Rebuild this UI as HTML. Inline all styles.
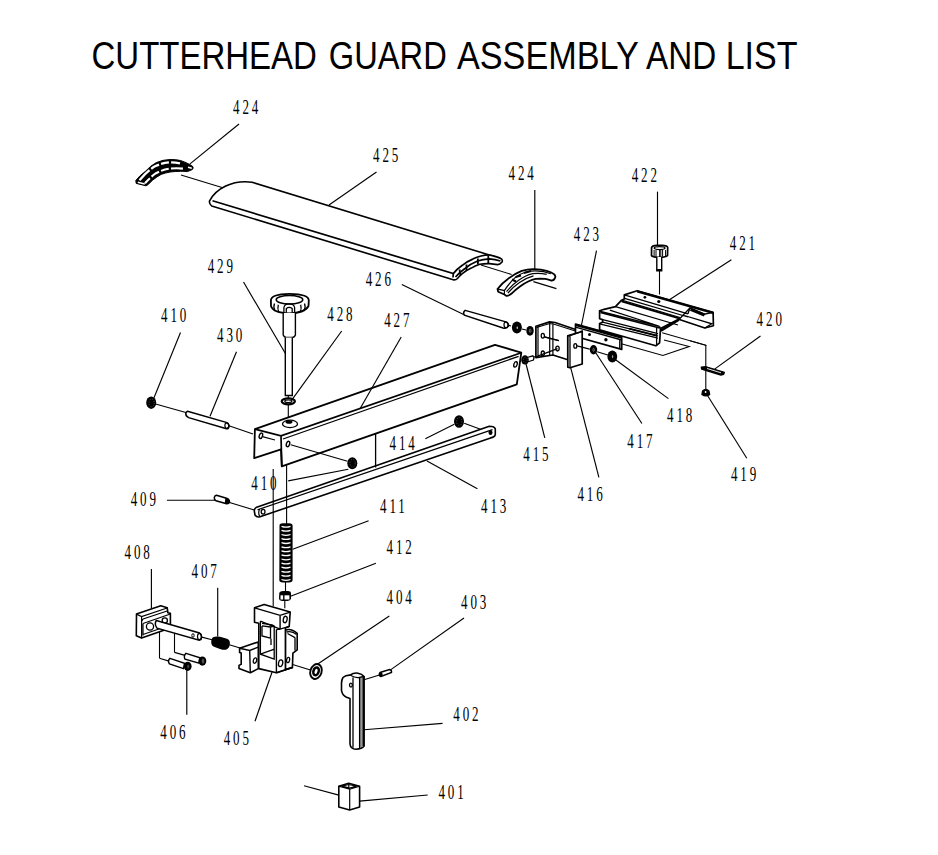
<!DOCTYPE html>
<html><head><meta charset="utf-8"><title>Cutterhead Guard Assembly</title>
<style>html,body{margin:0;padding:0;background:#fff;}svg{display:block;}text{fill:#000;}</style>
</head><body>
<svg width="938" height="855" viewBox="0 0 938 855">
<rect width="938" height="855" fill="#fff"/>
<text x="91.5" y="68.8" font-family="Liberation Sans" font-size="38" textLength="225.4" lengthAdjust="spacingAndGlyphs">CUTTERHEAD</text>
<text x="328.8" y="68.8" font-family="Liberation Sans" font-size="38" textLength="118.0" lengthAdjust="spacingAndGlyphs">GUARD</text>
<text x="456.9" y="68.8" font-family="Liberation Sans" font-size="38" textLength="182.0" lengthAdjust="spacingAndGlyphs">ASSEMBLY</text>
<text x="646.1" y="68.8" font-family="Liberation Sans" font-size="38" textLength="70.2" lengthAdjust="spacingAndGlyphs">AND</text>
<text x="725.7" y="68.8" font-family="Liberation Sans" font-size="38" textLength="71.8" lengthAdjust="spacingAndGlyphs">LIST</text>
<line x1="181" y1="175" x2="222.8" y2="187.8" stroke="#000" stroke-width="1.1"/>
<line x1="480.9" y1="265" x2="511.6" y2="274.5" stroke="#000" stroke-width="1.1"/>
<line x1="533.4" y1="281.6" x2="556.4" y2="288.6" stroke="#000" stroke-width="1.1"/>
<line x1="155.6" y1="404" x2="187.6" y2="413" stroke="#000" stroke-width="1.1"/>
<line x1="227.5" y1="425.3" x2="253" y2="434" stroke="#000" stroke-width="1.1"/>
<line x1="464.2" y1="423.3" x2="480.5" y2="429.3" stroke="#000" stroke-width="1.1"/>
<line x1="228.7" y1="502.3" x2="254.3" y2="510" stroke="#000" stroke-width="1.1"/>
<line x1="273.2" y1="469" x2="273.2" y2="606.2" stroke="#000" stroke-width="1.1"/>
<line x1="286.6" y1="464" x2="286.6" y2="524" stroke="#000" stroke-width="1.1"/>
<line x1="285.5" y1="581.7" x2="285.5" y2="591.5" stroke="#000" stroke-width="1.1"/>
<line x1="284.8" y1="600.5" x2="284.8" y2="608.3" stroke="#000" stroke-width="1.1"/>
<line x1="288.3" y1="337" x2="288.3" y2="420" stroke="#000" stroke-width="1.1"/>
<line x1="659.5" y1="271" x2="659.5" y2="294.5" stroke="#000" stroke-width="1.1"/>
<line x1="201.8" y1="637.1" x2="212" y2="639.7" stroke="#000" stroke-width="1.1"/>
<line x1="229.3" y1="644.8" x2="240.1" y2="648" stroke="#000" stroke-width="1.1"/>
<line x1="159.5" y1="629.4" x2="159.5" y2="658.2" stroke="#000" stroke-width="1.1"/>
<line x1="159.5" y1="658.2" x2="169.8" y2="661.4" stroke="#000" stroke-width="1.1"/>
<line x1="174.5" y1="633.3" x2="174.5" y2="652.4" stroke="#000" stroke-width="1.1"/>
<line x1="174.5" y1="652.4" x2="185.8" y2="655.6" stroke="#000" stroke-width="1.1"/>
<line x1="291.8" y1="664.3" x2="310.4" y2="670" stroke="#000" stroke-width="1.1"/>
<line x1="364" y1="679.8" x2="379.5" y2="674.9" stroke="#000" stroke-width="1.1"/>
<line x1="304" y1="785.8" x2="338.8" y2="795.1" stroke="#000" stroke-width="1.1"/>
<line x1="506.8" y1="324.8" x2="511" y2="326" stroke="#000" stroke-width="1.1"/>
<line x1="522" y1="329" x2="526" y2="330" stroke="#000" stroke-width="1.1"/>
<line x1="533" y1="357.2" x2="537" y2="356" stroke="#000" stroke-width="1.1"/>
<line x1="597.2" y1="351.8" x2="607.8" y2="355" stroke="#000" stroke-width="1.1"/>
<line x1="690" y1="340.7" x2="705.8" y2="345.3" stroke="#000" stroke-width="1.1"/>
<line x1="705.8" y1="345.3" x2="705.8" y2="389.2" stroke="#000" stroke-width="1.1"/>
<path d="M135.8,180.6 Q139,176 145.9,170.9 Q150,166 156.3,162.6 Q163,159.6 170.1,159.5 Q176,159.4 180.5,160.5 Q185,162 188.8,164 Q192,165.5 193,166.8 Q193.5,168.5 192.3,169.6 L187.4,171.6 Q184,171.2 180.5,171.3 Q175,171.4 170.1,172 Q165,173 161.1,174.4 Q156.5,177 152.8,180 Q150,182.5 147.9,184.8 L145.9,185.8 L136.2,183.4 Z" fill="#000" stroke="#000" stroke-width="1" stroke-linejoin="round"/>
<path d="M139.5,180.2 Q147,171.5 154,166.8 Q162,162.8 170,162.3 Q178,162 186.5,165.5" fill="none" stroke="#fff" stroke-width="2.3" stroke-dasharray="14,2.2,9,2.2,8,2.2,9"/>
<path d="M145,183.2 Q150.5,177 156,173.2 Q163,169.5 170,168.6 Q177,168 183,168.6" fill="none" stroke="#fff" stroke-width="2.1" stroke-dasharray="7,2.2,9,2.2,8,2.2,12"/>
<path d="M137.8,182.2 L144.8,183.9 M188,167.3 L191.8,168.3" fill="none" stroke="#fff" stroke-width="1.5"/>
<path d="M252,182.2 L489.4,254.9 Q497.7,256.7 501.8,259.1 Q503,261.5 501.5,262.6 Q500,264.5 497.7,264.6 L489.4,263.6 Q484,263.5 479.7,264.3 Q475,265.8 471.3,268.1 Q466,270.5 462.3,273.6 Q459.5,276 457.5,278.5 Q456,280 454,279.9 L211.7,206 Q208.8,203.5 209.6,200.8 C216,189 232,179.5 252,182.2 Z" fill="#fff" stroke="#000" stroke-width="1.6" stroke-linejoin="round"/>
<path d="M212.5,200.8 L453.3,273.6 Q457,269 462.3,265.3 Q467,261.5 472.7,259.1 Q477,257 481,256 Q485,255 489.4,254.9 M455.5,277 Q459.5,272.5 464.6,268.8 Q470,264 477.6,261 Q483,259 489.4,258.8 Q495,259 500.4,261 M453.3,273.6 L453,277.5" fill="none" stroke="#000" stroke-width="1.7"/>
<path d="M466.5,264.5 L466.5,270 M477.9,258.4 L477.9,264.3 M488.3,255.6 L488.3,263.6 M459.5,269.5 L460.5,275" fill="none" stroke="#000" stroke-width="1.8"/>
<path d="M497.5,289 Q502,283 507.9,278.9 Q514,274 521.7,270.9 Q528,269 534.2,269.2 Q541,269.5 546.7,270.9 Q552,272.5 554.3,274.4 Q556,276.5 555,277.9 Q554,280.5 551.5,280.6 Q548.5,279.5 545.3,278.9 Q540,278.6 535.6,278.9 Q532,279.8 528.7,281.3 Q524,283.5 520.3,286.2 Q515,290 511.3,293.8 Q509,295.8 506.5,295.9 L504.4,294.5 L498.2,291.7 Z" fill="#fff" stroke="#000" stroke-width="1.8" stroke-linejoin="round"/>
<path d="M498,289.2 L504.4,290.6 L504.4,294.5 M504.4,290.6 Q509,283.5 514.8,277.9 Q519.5,274 525.2,272.3 Q530,270.9 535.6,270.9 Q544,271 550.8,273.7 M506.5,291.7 Q512,285 518.3,280.6 Q525,275.5 532.8,273.7 Q540,272.8 546.7,274.4 M507.9,293.1 Q513,287 519.5,282.5 Q526,277.8 533.5,275.8" fill="none" stroke="#000" stroke-width="1.2"/>
<path d="M512,279.5 L516,281.5 M515.5,277 L521,275.5 M524,273 L531,271" fill="none" stroke="#000" stroke-width="2"/>
<path d="M465.2,310.4 L505,321.6 Q509,323 508.5,326 Q507,329 503,328 L464.4,315.2 Q462.5,312.5 465.2,310.4 Z" fill="#fff" stroke="#000" stroke-width="1.5"/>
<ellipse cx="506" cy="324.8" rx="2" ry="3" fill="none" stroke="#000" stroke-width="1.2"/>
<ellipse cx="516.9" cy="327.4" rx="5" ry="6" fill="#000"/><ellipse cx="517.3" cy="327.8" rx="0.8" ry="1.3" fill="#fff" opacity="0.7"/>
<ellipse cx="530" cy="330.8" rx="3.7" ry="4.9" fill="#000"/><ellipse cx="530.2" cy="330.8" rx="0.9" ry="1.6" fill="none" stroke="#fff" stroke-width="0.5" opacity="0.8"/>
<path d="M535.9,326.2 L549.7,321.9 L555,322.5 L580.1,331 L580.1,336 L567.8,335.8 L567.8,359.8 L552.9,355 L535.9,357.6 Z" fill="#fff" stroke="#000" stroke-width="1.7" stroke-linejoin="round"/>
<path d="M538,325.6 L538,357.2 M549.7,321.9 L549.7,355.5 M552.9,322.5 L552.9,355 M536.5,327.5 L549.7,323.5 L555,324.5 L580,332.5 M544.4,336.9 L558.8,340.6 M536.4,356.6 L557.5,348.6" fill="none" stroke="#000" stroke-width="1.2"/>
<ellipse cx="542.8" cy="335.8" rx="1.6" ry="2.4" fill="none" stroke="#000" stroke-width="1.3"/><ellipse cx="542.8" cy="353.4" rx="1.6" ry="2.4" fill="none" stroke="#000" stroke-width="1.3"/><ellipse cx="557.5" cy="348.6" rx="1.7" ry="2.4" fill="none" stroke="#000" stroke-width="1.3"/>
<path d="M575.5,324 L621.7,336.9 L621.7,349.4 L575.5,336.5 Z" fill="#fff" stroke="#000" stroke-width="1.7" stroke-linejoin="round"/>
<path d="M575.5,327.2 L621.7,340 M619.8,340 L619.8,349" fill="none" stroke="#000" stroke-width="1.4"/><path d="M575.5,324.8 L621.7,337.7" stroke="#000" stroke-width="2.4"/><circle cx="589.5" cy="334.5" r="1.5" fill="#000"/><circle cx="605.9" cy="339.7" r="1.7" fill="#000"/>
<path d="M567.8,335.8 L580.1,332 L582.2,331 L582.2,364 L570,367.8 L567.8,367.2 Z" fill="#fff" stroke="#000" stroke-width="1.7" stroke-linejoin="round"/>
<path d="M570,335.5 L570,367.5 M567.8,335.8 L570,335.5 L582.2,331.5" fill="none" stroke="#000" stroke-width="1.3"/><ellipse cx="575.3" cy="345.9" rx="1.5" ry="2.3" fill="none" stroke="#000" stroke-width="1.3"/>
<ellipse cx="593.5" cy="349.8" rx="3.7" ry="4.7" fill="#000"/><ellipse cx="593.6" cy="349.8" rx="0.8" ry="1.5" fill="none" stroke="#fff" stroke-width="0.5" opacity="0.8"/>
<ellipse cx="612.3" cy="356.4" rx="4.9" ry="6" fill="#000"/><ellipse cx="612.6" cy="356.6" rx="0.7" ry="1.6" fill="#fff" opacity="0.6"/>
<path d="M599.6,310.8 L604.1,309.3 L615.5,306.7 L621.6,300.2 L624.3,299 L624.3,294.9 L637.2,290.7 L713.1,312.3 L713.4,325.7 L704.8,328 L678.6,319.3 L660.5,328.5 L659.6,342.8 L655.8,345.8 L599.6,329.8 L599.6,323.5 L602.6,322.2 L602.6,319.6 L599.6,318.8 Z" fill="#fff" stroke="#000" stroke-width="1.7" stroke-linejoin="round"/>
<path d="M624.3,294.9 L688,313.8 M624.6,298.3 L688,317 M621.6,300.2 L680,317.5 M615.5,306.7 L678,325 M609.8,310.1 L658.8,326 M599.6,311.2 L659.6,326.4 M600.3,312.7 L659.6,328 M602.6,319.6 L658,333.6 M602.6,322.2 L658,335.9 M599.6,323.8 L658,338.2 M656.6,326.4 L656.6,345.5 M659.6,326.4 L660.5,328.5 M660.5,330 L680,318.5 L690,307.8 L704.1,314.2 L713.1,312.3 M684.3,315.5 L711.8,323.8 L704.8,328 M688,313.8 L690,307.8" fill="none" stroke="#000" stroke-width="1.3"/>
<path d="M637.2,291.4 L713.1,313" fill="none" stroke="#000" stroke-width="2.3"/><path d="M621.6,301.4 L680,318.6" fill="none" stroke="#000" stroke-width="2"/><path d="M629.2,328.6 L656.6,335.6" fill="none" stroke="#000" stroke-width="2"/><path d="M690.5,309.3 L704.5,315" fill="none" stroke="#000" stroke-width="3"/><path d="M661,331 L679,320" fill="none" stroke="#000" stroke-width="2"/>
<circle cx="644.9" cy="297.3" r="1.4" fill="#000"/><circle cx="658.8" cy="301.5" r="1.6" fill="#000"/>
<path d="M621.3,343.8 L662.9,355.5 L689.2,346.5 L664,340 M662.2,332.7 L706,345.3 L706,346" fill="none" stroke="#000" stroke-width="1.1"/>
<path d="M651.6,247.5 Q652,245.5 657,245.3 L662,245.3 Q667.5,245.5 667.7,247.5 L667.5,255.5 Q666,257.3 660,257.3 L658,257.3 Q652.5,257.2 651.5,255.5 Z" fill="#fff" stroke="#000" stroke-width="1.7"/>
<ellipse cx="659.6" cy="248.1" rx="5.4" ry="1.5" fill="#fff" stroke="#000" stroke-width="1.3"/><path d="M654.1,250 L654.1,256.5 M656,250 L656,256.8 M659.6,250 L659.6,257 M660.8,250 L660.8,257 M662.6,250 L662.6,256.8 M665.6,250 L665.6,256.5" fill="none" stroke="#000" stroke-width="1"/>
<path d="M656.8,257 L656.8,270.8 L661.7,270.8 L661.7,257" fill="#fff" stroke="#000" stroke-width="1.4"/><path d="M656.8,270 L661.7,270" stroke="#000" stroke-width="2"/>
<path d="M701.2,367 L706.2,366.7 L724.4,372.3 L723.7,374.4 L720.9,375.1 L701.6,369.1 Z" fill="#000" stroke="#000" stroke-width="1.2" stroke-linejoin="round"/><path d="M707,368.5 L721,372.8" stroke="#fff" stroke-width="0.9"/>
<path d="M702.5,391 Q705.8,387.5 709,391 L709.7,394.5 Q705.8,397.5 701.9,394.5 Z" fill="#000" stroke="#000" stroke-width="1.2"/><circle cx="705.6" cy="392" r="0.9" fill="#fff"/>
<path d="M254.9,429.1 L495,344.8 L521.3,352.7 L516.8,384.4 L281.8,466.4 L281,449.3 L254.2,458.2 Z" fill="#fff" stroke="#000" stroke-width="1.8" stroke-linejoin="round"/>
<path d="M254.9,429.1 L281,435.8 L521.3,352.7 M281,435.8 L281.8,466.4" fill="none" stroke="#000" stroke-width="1.7"/><path d="M283,439 L518.6,356.3 M375.6,433.5 L375.6,467.6" fill="none" stroke="#000" stroke-width="1.3"/>
<ellipse cx="260.9" cy="435.8" rx="1.6" ry="2.8" transform="rotate(18 260.9 435.8)" fill="none" stroke="#000" stroke-width="1.4"/><ellipse cx="288" cy="444" rx="1.6" ry="2.8" transform="rotate(18 288 444)" fill="none" stroke="#000" stroke-width="1.4"/><ellipse cx="515.5" cy="364.4" rx="1.6" ry="2.8" transform="rotate(18 515.5 364.4)" fill="none" stroke="#000" stroke-width="1.4"/>
<ellipse cx="290" cy="423.9" rx="7.5" ry="3.7" fill="#fff" stroke="#000" stroke-width="1.3"/><ellipse cx="289" cy="422" rx="3.5" ry="1.8" fill="#000"/>
<path d="M527,357.5 L533,355.8 Q534.5,357.5 533.5,360 L528,361.8" fill="#fff" stroke="#000" stroke-width="1.2"/><ellipse cx="525" cy="359.9" rx="3.8" ry="4.6" fill="#000"/><ellipse cx="525.3" cy="359.9" rx="1.9" ry="2.8" fill="none" stroke="#fff" stroke-width="0.5" stroke-dasharray="1,1.5" opacity="0.6"/>
<path d="M270.9,300.5 Q271,294 289.5,293.8 Q308.8,294 308.8,300.5 L308.5,306 Q305,313 289.5,313.3 Q273,313 271,306 Z" fill="#fff" stroke="#000" stroke-width="1.8"/>
<ellipse cx="289.5" cy="299.7" rx="13.3" ry="4.2" fill="none" stroke="#000" stroke-width="1.5"/><path d="M274.5,303.5 Q273,307 275,311 M278.3,304.8 Q277.2,308.5 278.8,312.3 M300.7,304.8 Q301.8,308.5 300.2,312.3 M304.5,303.5 Q306,307 304,311 M283.9,312.8 L283.9,307.5 Q284.5,303.8 289.2,303.8 Q294,303.8 294.6,307.5 L294.6,312.8 M286.3,312.5 L286.3,308.5 Q289.2,306.3 292.2,308.5 L292.2,312.5" fill="none" stroke="#000" stroke-width="1.3"/>
<path d="M283.2,313 L283.2,335 Q284,337 286,337.5 L292.5,337.5 Q294.8,337 295.4,335 L295.4,313" fill="#fff" stroke="#000" stroke-width="1.4"/>
<path d="M285.3,337.5 L285.3,395.5 L292.3,395.5 L292.3,337.5" fill="#fff" stroke="#000" stroke-width="1.4"/>
<ellipse cx="288.3" cy="401.3" rx="6.6" ry="3" fill="#fff" stroke="#000" stroke-width="2.2"/><ellipse cx="288.3" cy="401.3" rx="3.6" ry="1.3" fill="none" stroke="#000" stroke-width="1.2"/>
<ellipse cx="151.2" cy="402.7" rx="5" ry="6.2" fill="#000"/><ellipse cx="151.6" cy="402.9" rx="2.6" ry="3.9" fill="none" stroke="#fff" stroke-width="0.5" stroke-dasharray="1,1.6" opacity="0.6"/>
<ellipse cx="352.3" cy="463.2" rx="5" ry="6" fill="#000"/><ellipse cx="352.6" cy="463.3" rx="2.6" ry="3.8" fill="none" stroke="#fff" stroke-width="0.5" stroke-dasharray="1,1.6" opacity="0.6"/>
<path d="M187.5,411.2 L226.2,422.4 Q229.5,424 229,426.5 Q228.5,429 226.5,428.8 L188.6,417.6 Q185.5,416 185.8,413.5 Q186.2,411.5 187.5,411.2 Z" fill="#fff" stroke="#000" stroke-width="1.5"/><ellipse cx="226.8" cy="425.6" rx="1.9" ry="2.8" fill="none" stroke="#000" stroke-width="1.2"/>
<path d="M256,507.6 L489.3,426.3 Q494.5,426.3 495.3,429 L495.3,434.5 Q494.8,437 490.6,437.9 L260,516.8 Q256.5,517.5 255,515 L254.3,511 Q254.3,508.5 256,507.6 Z" fill="none" stroke="#000" stroke-width="1.6" stroke-linejoin="round"/>
<path d="M257.5,509.8 L492.5,429.6 M259.5,509.2 Q257.8,513 259.8,516.6" fill="none" stroke="#000" stroke-width="1.2"/><ellipse cx="263.1" cy="511.8" rx="1.9" ry="2.4" fill="none" stroke="#000" stroke-width="1.3"/><ellipse cx="490.5" cy="432.4" rx="2" ry="2.5" fill="#000"/>
<ellipse cx="459" cy="421.5" rx="5" ry="6.3" fill="#000"/><ellipse cx="459.3" cy="421.5" rx="2.7" ry="4" fill="none" stroke="#fff" stroke-width="0.5" stroke-dasharray="1,1.6" opacity="0.6"/>
<path d="M216.5,495.3 L226.5,498.2 Q229.8,499.5 229.5,502 Q229,504 226.5,503.8 L216,500.8 Q214,499.8 214.3,497.5 Q214.8,495.2 216.5,495.3 Z" fill="#fff" stroke="#000" stroke-width="1.5"/><path d="M225.3,497.9 L227.5,498.6 Q229.6,500 229.3,502 Q228.8,503.6 226.8,503.5 L224.8,502.9 Z" fill="#000"/>
<path d="M279.5,526 Q279,523.5 283,523.3 L289,523.3 Q292.8,523.5 292.6,526 L292.6,580 Q292.6,582.3 289,582.5 L283,582.5 Q279.2,582.3 279.3,580 Z" fill="#000"/><path d="M281.5,526.3 Q286,527.9 290.5,526.3" fill="none" stroke="#fff" stroke-width="1.25"/><path d="M281.5,530.4 Q286,532.0 290.5,530.4" fill="none" stroke="#fff" stroke-width="1.25"/><path d="M281.5,534.5 Q286,536.1 290.5,534.5" fill="none" stroke="#fff" stroke-width="1.25"/><path d="M281.5,538.6 Q286,540.2 290.5,538.6" fill="none" stroke="#fff" stroke-width="1.25"/><path d="M281.5,542.7 Q286,544.3 290.5,542.7" fill="none" stroke="#fff" stroke-width="1.25"/><path d="M281.5,546.8 Q286,548.4 290.5,546.8" fill="none" stroke="#fff" stroke-width="1.25"/><path d="M281.5,550.9 Q286,552.5 290.5,550.9" fill="none" stroke="#fff" stroke-width="1.25"/><path d="M281.5,554.9 Q286,556.5 290.5,554.9" fill="none" stroke="#fff" stroke-width="1.25"/><path d="M281.5,559.0 Q286,560.6 290.5,559.0" fill="none" stroke="#fff" stroke-width="1.25"/><path d="M281.5,563.1 Q286,564.7 290.5,563.1" fill="none" stroke="#fff" stroke-width="1.25"/><path d="M281.5,567.2 Q286,568.8 290.5,567.2" fill="none" stroke="#fff" stroke-width="1.25"/><path d="M281.5,571.3 Q286,572.9 290.5,571.3" fill="none" stroke="#fff" stroke-width="1.25"/><path d="M281.5,575.4 Q286,577.0 290.5,575.4" fill="none" stroke="#fff" stroke-width="1.25"/><path d="M281.5,579.5 Q286,581.1 290.5,579.5" fill="none" stroke="#fff" stroke-width="1.25"/>
<path d="M279.3,592.8 Q280,591.2 283,591 L288,591 Q290.8,591.3 291,592.8 L291,598.8 Q290.5,600.8 287.5,601 L282,601 Q279.2,600.6 279,598.8 Z" fill="#000"/><rect x="280.5" y="595.3" width="2.6" height="4.2" fill="#fff"/><rect x="284.5" y="595.3" width="4.9" height="4.2" fill="#fff"/>
<path d="M136.5,614.1 L160.8,605.8 L167.2,607.7 L167.9,612.8 L170.4,613.4 L170.4,628.1 L141.6,638.1 L136.3,635.8 Z" fill="#fff" stroke="#000" stroke-width="1.6" stroke-linejoin="round"/>
<path d="M136.5,614.1 L141.6,616.6 L167.9,607.8 M141.6,616.6 L141.6,638.1 M143,619 L167.9,610.8 M141.6,621.5 L143,619 M143,623.5 L170.4,614 M143,623.5 L143,635.5 M143,634.5 L170.4,625" fill="none" stroke="#000" stroke-width="1.2"/>
<circle cx="150" cy="626.5" r="3.6" fill="none" stroke="#000" stroke-width="1.3"/><circle cx="164.8" cy="620.5" r="2.6" fill="none" stroke="#000" stroke-width="1.3"/>
<path d="M156.3,620.5 L199.5,633 Q202.5,635.5 201,639.5 L199.2,640.3 L157,628.1 Q154,624 156.3,620.5 Z" fill="#fff" stroke="#000" stroke-width="1.5"/><ellipse cx="199.5" cy="636.5" rx="2" ry="3.2" fill="none" stroke="#000" stroke-width="1.2"/><ellipse cx="193" cy="635.5" rx="1.2" ry="1.8" fill="none" stroke="#000" stroke-width="1"/>
<path d="M213.5,637 Q216,636 220,636.8 L227,638.8 Q230,640 229.9,643.5 Q229.6,648 226.5,649.6 Q224,650.3 220,649 L214,646.8 Q211.2,645.5 211.2,642 Q211.3,638 213.5,637 Z" fill="#000"/>
<path d="M186,653.3 L200,657.8 L199,663.2 L185,659.2 Q183.3,656 186,653.3 Z" fill="#fff" stroke="#000" stroke-width="1.4"/><ellipse cx="202.4" cy="661.1" rx="3.9" ry="4.6" fill="#000"/><ellipse cx="203" cy="661.1" rx="1.4" ry="2.6" fill="#fff" opacity="0.3"/>
<path d="M170,658.3 L184.5,663.3 L183.5,668.6 L169.5,664 Q167.3,661 170,658.3 Z" fill="#fff" stroke="#000" stroke-width="1.4"/><ellipse cx="187.7" cy="666.3" rx="3.9" ry="4.6" fill="#000"/><ellipse cx="188.2" cy="666.5" rx="1.1" ry="2.1" fill="#fff" opacity="0.25"/>
<path d="M239.6,648.3 L258.3,641.9 L258.3,668.6 L250.3,672.8 L239,668.6 L239,665.4 L241.2,664.3 L241.2,653.1 L239.6,652.6 Z" fill="#fff" stroke="#000" stroke-width="1.6" stroke-linejoin="round"/>
<path d="M239.6,648.3 L249.7,650.4 L258.3,647.2 M249.7,650.4 L250.3,672.8" fill="none" stroke="#000" stroke-width="1.4"/><ellipse cx="255" cy="660.6" rx="1.6" ry="2.7" transform="rotate(15 255 660.6)" fill="none" stroke="#000" stroke-width="1.3"/>
<path d="M285.4,630.2 Q291,628 297.2,633.4 L297.2,649.9 L292.9,653.1 L292.4,667.5 L285.4,669.6 Z" fill="#fff" stroke="#000" stroke-width="1.6" stroke-linejoin="round"/>
<path d="M286.5,632 Q292,630.5 296.6,634.5 M295,637.6 L295,650.5 M287.5,633.5 L295,637.6" fill="none" stroke="#000" stroke-width="1.3"/>
<path d="M254.5,607.8 L264.1,604.4 L290.2,612.1 L289.2,626.4 L285.4,628 L285.4,669.6 L292.4,667.5 L276.4,672.8 L258.8,668.6 L258.8,623.3 L254.5,622.2 Z" fill="#fff" stroke="#000" stroke-width="1.6" stroke-linejoin="round"/>
<path d="M254.5,607.8 L280.1,615.3 L290.2,612.1 M280.1,615.3 L280.1,629.1 L289.2,626.4 M260.4,621.1 L280.1,629.1 M276.4,629.6 L276.4,672.8 M276.4,629.6 L280.1,629.1 M276.4,672.8 L292.4,667.5" fill="none" stroke="#000" stroke-width="1.4"/>
<path d="M260.4,621.1 L260.4,654.2 L274.2,659 L274.2,625.4 M260.4,654.2 L273.7,649.4 M262,623.3 L272.1,624.9 L274.2,626 M262,625.9 L262,636 L270.5,638.2 L270.5,627 M262,625.9 L270.5,627 L274.2,626 M271,638.7 L271,645.1" fill="none" stroke="#000" stroke-width="1.3"/>
<ellipse cx="285.2" cy="619.5" rx="1.9" ry="3.3" transform="rotate(12 285.2 619.5)" fill="none" stroke="#000" stroke-width="1.3"/><ellipse cx="280.6" cy="663.2" rx="2.1" ry="3.4" transform="rotate(12 280.6 663.2)" fill="none" stroke="#000" stroke-width="1.3"/><ellipse cx="288.1" cy="660" rx="1.5" ry="2.6" transform="rotate(12 288.1 660)" fill="none" stroke="#000" stroke-width="1.3"/>
<g transform="rotate(18 316 671.5)"><ellipse cx="316" cy="671.5" rx="5.6" ry="7.6" fill="#fff" stroke="#000" stroke-width="1.9"/><ellipse cx="316" cy="671.3" rx="2.6" ry="4" fill="#fff" stroke="#000" stroke-width="2.5"/><ellipse cx="316.2" cy="671.3" rx="0.8" ry="1.8" fill="#fff"/></g>
<path d="M380,672.5 L389.5,669.5 Q392,670 391.5,672.5 L381,676.5 Q378,675.5 380,672.5 Z" fill="#fff" stroke="#000" stroke-width="1.4"/><ellipse cx="381" cy="674.5" rx="1.6" ry="2.2" fill="#000"/>
<path d="M350,675.1 Q345.5,675 343,677.5 Q341.5,680 341.5,683 L341.5,690.7 Q342.5,695.5 346.5,697.3 L350,698.5 L350,744 Q350.5,749 356,749.2 Q362,749 364,746 L364,676.5 Q362,674 358,673.2 Q354,672.5 350,675.1 Z" fill="#fff" stroke="#000" stroke-width="1.6" stroke-linejoin="round"/>
<rect x="359.8" y="677" width="3.4" height="70" fill="#9a9a9a"/>
<path d="M350.4,675.3 Q356,678.5 359.5,677.4 L363.5,676.5 M353,677.5 L353,747.8 M359.6,677 L359.6,748.5" fill="none" stroke="#000" stroke-width="1.3"/><path d="M363.6,676 L363.6,746.5" fill="none" stroke="#000" stroke-width="2"/><ellipse cx="350.9" cy="685.1" rx="1.4" ry="2" fill="none" stroke="#000" stroke-width="1.3"/>
<path d="M338.8,786.2 L348.7,783.2 L359.6,786.2 L359.6,807 L349.7,810 L338.8,807 Z" fill="#fff" stroke="#000" stroke-width="1.6" stroke-linejoin="round"/>
<path d="M338.8,786.2 L349.7,789.2 L359.6,786.2 M349.7,789.2 L349.7,810 M342,786.2 L348.7,784.5 L356.5,786.2 L349.7,788 Z M348.8,784.5 L348.8,789" fill="none" stroke="#000" stroke-width="1.2"/>
<line x1="239" y1="124" x2="190" y2="163.9" stroke="#000" stroke-width="1.15"/>
<line x1="376.5" y1="172" x2="329" y2="205" stroke="#000" stroke-width="1.15"/>
<line x1="534.8" y1="190" x2="534.8" y2="269.3" stroke="#000" stroke-width="1.15"/>
<line x1="657.5" y1="191.6" x2="657.5" y2="245.5" stroke="#000" stroke-width="1.15"/>
<line x1="596.5" y1="250.7" x2="581.5" y2="325" stroke="#000" stroke-width="1.15"/>
<line x1="731.4" y1="259.7" x2="669" y2="300" stroke="#000" stroke-width="1.15"/>
<line x1="401.8" y1="284.5" x2="463.6" y2="314.4" stroke="#000" stroke-width="1.15"/>
<line x1="243.5" y1="282" x2="285.7" y2="354" stroke="#000" stroke-width="1.15"/>
<line x1="180.5" y1="332.5" x2="154" y2="397.8" stroke="#000" stroke-width="1.15"/>
<line x1="236.5" y1="351.7" x2="210" y2="416.3" stroke="#000" stroke-width="1.15"/>
<line x1="341.7" y1="331" x2="291.5" y2="400.3" stroke="#000" stroke-width="1.15"/>
<line x1="401.2" y1="337" x2="360.3" y2="408.3" stroke="#000" stroke-width="1.15"/>
<line x1="760.5" y1="336" x2="714.6" y2="369.1" stroke="#000" stroke-width="1.15"/>
<line x1="425.3" y1="438.7" x2="454.3" y2="424.2" stroke="#000" stroke-width="1.15"/>
<line x1="544.8" y1="437.8" x2="525.9" y2="363.5" stroke="#000" stroke-width="1.15"/>
<line x1="641.9" y1="423.5" x2="595.4" y2="352.2" stroke="#000" stroke-width="1.15"/>
<line x1="668.4" y1="398.6" x2="614.6" y2="359" stroke="#000" stroke-width="1.15"/>
<line x1="746.8" y1="458.3" x2="707.5" y2="395.5" stroke="#000" stroke-width="1.15"/>
<line x1="598.9" y1="477.3" x2="570.5" y2="366.8" stroke="#000" stroke-width="1.15"/>
<line x1="288.2" y1="480.9" x2="348.3" y2="469.2" stroke="#000" stroke-width="1.15"/>
<line x1="166.9" y1="500.2" x2="216" y2="500.2" stroke="#000" stroke-width="1.15"/>
<line x1="368.6" y1="520.7" x2="292.7" y2="549.3" stroke="#000" stroke-width="1.15"/>
<line x1="477.4" y1="488.7" x2="427" y2="461" stroke="#000" stroke-width="1.15"/>
<line x1="375.9" y1="563.3" x2="290.6" y2="596.2" stroke="#000" stroke-width="1.15"/>
<line x1="151.4" y1="569" x2="151.4" y2="608.2" stroke="#000" stroke-width="1.15"/>
<line x1="217.7" y1="587.8" x2="217.7" y2="636.5" stroke="#000" stroke-width="1.15"/>
<line x1="389.3" y1="615.9" x2="317.4" y2="664.3" stroke="#000" stroke-width="1.15"/>
<line x1="464" y1="618" x2="390.5" y2="669.9" stroke="#000" stroke-width="1.15"/>
<line x1="186.8" y1="714.8" x2="186.8" y2="669" stroke="#000" stroke-width="1.15"/>
<line x1="255" y1="721.2" x2="272" y2="672.2" stroke="#000" stroke-width="1.15"/>
<line x1="442.6" y1="723.4" x2="364" y2="729.8" stroke="#000" stroke-width="1.15"/>
<line x1="427.7" y1="795" x2="359.6" y2="801.1" stroke="#000" stroke-width="1.15"/>
<line x1="290.7" y1="444.8" x2="347.5" y2="461.2" stroke="#000" stroke-width="1.1"/>
<line x1="262.4" y1="436.6" x2="275" y2="440" stroke="#000" stroke-width="1.1"/>
<line x1="544.4" y1="336.9" x2="558.8" y2="340.6" stroke="#000" stroke-width="1.1"/>
<line x1="577" y1="345.9" x2="589.7" y2="349.1" stroke="#000" stroke-width="1.1"/>
<text font-family="Liberation Serif" font-size="19.9" transform="translate(233.0,113.6) scale(0.656,1)" letter-spacing="4.38">424</text>
<text font-family="Liberation Serif" font-size="19.9" transform="translate(373.0,161.9) scale(0.656,1)" letter-spacing="4.38">425</text>
<text font-family="Liberation Serif" font-size="19.9" transform="translate(508.5,180.4) scale(0.656,1)" letter-spacing="4.38">424</text>
<text font-family="Liberation Serif" font-size="19.9" transform="translate(631.7,182.0) scale(0.656,1)" letter-spacing="4.38">422</text>
<text font-family="Liberation Serif" font-size="19.9" transform="translate(573.8,240.5) scale(0.656,1)" letter-spacing="4.38">423</text>
<text font-family="Liberation Serif" font-size="19.9" transform="translate(729.8,250.1) scale(0.656,1)" letter-spacing="4.38">421</text>
<text font-family="Liberation Serif" font-size="19.9" transform="translate(365.7,286.1) scale(0.656,1)" letter-spacing="4.38">426</text>
<text font-family="Liberation Serif" font-size="19.9" transform="translate(207.7,272.9) scale(0.656,1)" letter-spacing="4.38">429</text>
<text font-family="Liberation Serif" font-size="19.9" transform="translate(161.0,322.0) scale(0.656,1)" letter-spacing="4.38">410</text>
<text font-family="Liberation Serif" font-size="19.9" transform="translate(217.0,342.0) scale(0.656,1)" letter-spacing="4.38">430</text>
<text font-family="Liberation Serif" font-size="19.9" transform="translate(327.3,321.0) scale(0.656,1)" letter-spacing="4.38">428</text>
<text font-family="Liberation Serif" font-size="19.9" transform="translate(384.2,326.8) scale(0.656,1)" letter-spacing="4.38">427</text>
<text font-family="Liberation Serif" font-size="19.9" transform="translate(756.6,325.8) scale(0.656,1)" letter-spacing="4.38">420</text>
<text font-family="Liberation Serif" font-size="19.9" transform="translate(389.5,450.3) scale(0.656,1)" letter-spacing="4.38">414</text>
<text font-family="Liberation Serif" font-size="19.9" transform="translate(523.3,461.3) scale(0.656,1)" letter-spacing="4.38">415</text>
<text font-family="Liberation Serif" font-size="19.9" transform="translate(627.3,448.0) scale(0.656,1)" letter-spacing="4.38">417</text>
<text font-family="Liberation Serif" font-size="19.9" transform="translate(667.0,421.9) scale(0.656,1)" letter-spacing="4.38">418</text>
<text font-family="Liberation Serif" font-size="19.9" transform="translate(730.9,481.4) scale(0.656,1)" letter-spacing="4.38">419</text>
<text font-family="Liberation Serif" font-size="19.9" transform="translate(577.4,501.1) scale(0.656,1)" letter-spacing="4.38">416</text>
<text font-family="Liberation Serif" font-size="19.9" transform="translate(251.3,490.4) scale(0.656,1)" letter-spacing="4.38">410</text>
<text font-family="Liberation Serif" font-size="19.9" transform="translate(130.7,505.8) scale(0.656,1)" letter-spacing="4.38">409</text>
<text font-family="Liberation Serif" font-size="19.9" transform="translate(380.0,513.0) scale(0.656,1)" letter-spacing="4.38">411</text>
<text font-family="Liberation Serif" font-size="19.9" transform="translate(481.0,513.0) scale(0.656,1)" letter-spacing="4.38">413</text>
<text font-family="Liberation Serif" font-size="19.9" transform="translate(386.5,554.4) scale(0.656,1)" letter-spacing="4.38">412</text>
<text font-family="Liberation Serif" font-size="19.9" transform="translate(124.5,558.8) scale(0.656,1)" letter-spacing="4.38">408</text>
<text font-family="Liberation Serif" font-size="19.9" transform="translate(191.5,578.3) scale(0.656,1)" letter-spacing="4.38">407</text>
<text font-family="Liberation Serif" font-size="19.9" transform="translate(386.5,604.4) scale(0.656,1)" letter-spacing="4.38">404</text>
<text font-family="Liberation Serif" font-size="19.9" transform="translate(461.0,608.5) scale(0.656,1)" letter-spacing="4.38">403</text>
<text font-family="Liberation Serif" font-size="19.9" transform="translate(160.3,738.9) scale(0.656,1)" letter-spacing="4.38">406</text>
<text font-family="Liberation Serif" font-size="19.9" transform="translate(223.7,745.1) scale(0.656,1)" letter-spacing="4.38">405</text>
<text font-family="Liberation Serif" font-size="19.9" transform="translate(453.3,720.8) scale(0.656,1)" letter-spacing="4.38">402</text>
<text font-family="Liberation Serif" font-size="19.9" transform="translate(438.4,799.3) scale(0.656,1)" letter-spacing="4.38">401</text>
</svg>
</body></html>
